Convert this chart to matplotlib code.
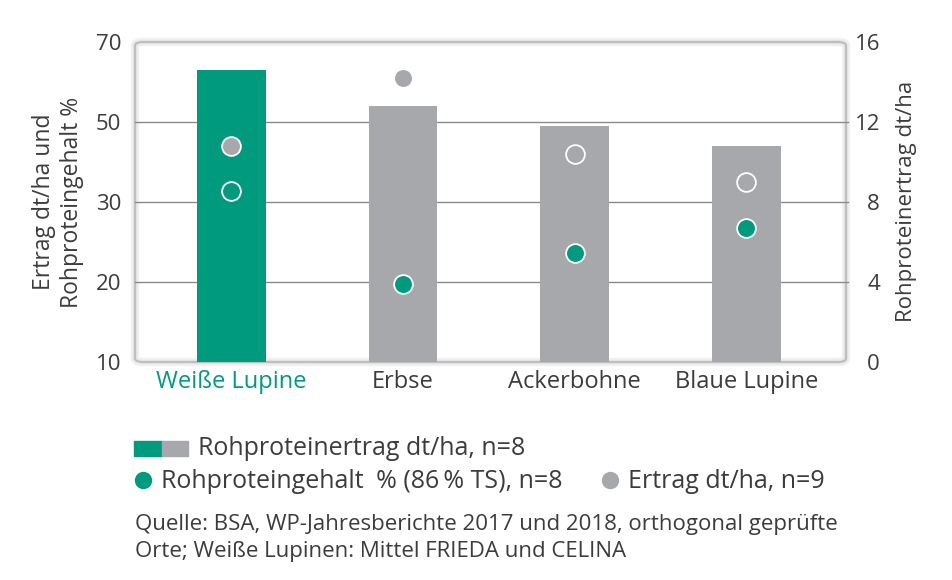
import numpy as np
import matplotlib.pyplot as plt
from matplotlib.patches import FancyBboxPatch, Rectangle
from matplotlib.lines import Line2D

plt.rcParams['font.family'] = ['Open Sans', 'DejaVu Sans']

# data
categories = ["Weiße Lupine", "Erbse", "Ackerbohne", "Blaue Lupine"]
rp_ertrag = [14.6, 12.8, 11.8, 10.8]      # Rohproteinertrag dt/ha (rechte Achse)
rp_gehalt = [32.8, 19.8, 23.6, 26.7]      # Rohproteingehalt % (linke Achse)
ertrag = [44.1, 61.0, 42.0, 34.9]         # Ertrag dt/ha (linke Achse)
left_ticks = [10, 20, 30, 50, 70]
right_ticks = [0, 4, 8, 12, 16]
legend_labels = ["Rohproteinertrag dt/ha, n=8",
                 "Rohproteingehalt\u2002% (86\u2009% TS), n=8",
                 "Ertrag dt/ha, n=9"]
source = ["Quelle: BSA, WP-Jahresberichte 2017 und 2018, orthogonal geprüfte",
          "Orte; Weiße Lupinen: Mittel FRIEDA und CELINA"]

green = "#009a7e"
grey = "#a7a8ab"
txt = "#3c3c3c"
W, H = 953, 580

# broken left axis: 10-30 takes half, 30-70 the other half
def fwd(v):
    v = np.asarray(v, dtype=float)
    return np.where(v <= 30, 0.4 * (v - 10), 8 + 0.2 * (v - 30))

def inv(r):
    r = np.asarray(r, dtype=float)
    return np.where(r <= 8, r / 0.4 + 10, (r - 8) / 0.2 + 30)

fig = plt.figure(figsize=(W / 100, H / 100), dpi=100)
ax = fig.add_axes([135 / W, 1 - 362 / H, 711 / W, 320 / H])
x = np.arange(len(categories))

# frame with a soft inner shade
for lw, col, z in [(6, "#f0f0f0", -3), (3, "#e2e2e2", -2), (1.2, "#b8b8b8", -1)]:
    fr = FancyBboxPatch((0, 0), 1, 1, boxstyle="round,pad=0,rounding_size=0.012",
                        transform=ax.transAxes, facecolor="none", edgecolor=col,
                        lw=lw, clip_on=False)
    fr.set_zorder(z)
    fig.add_artist(fr)

bar_cols = [green] + [grey] * (len(categories) - 1)
ax.bar(x, rp_ertrag, width=0.4, color=bar_cols, zorder=2)
ax.set_ylim(0, 16)
ax.set_xlim(-0.56, 3.58)
for t in right_ticks[1:-1]:
    ax.axhline(t, color="#8a8a8a", lw=1, zorder=1, xmax=1.003, clip_on=False)
ax.set_xticks(x)
ax.set_xticklabels(categories)
ax.tick_params(axis='x', length=0, pad=6, labelsize=17, labelcolor=txt)
ax.get_xticklabels()[0].set_color(green)
for s in ax.spines.values():
    s.set_visible(False)
ax.patch.set_visible(False)

ax2 = ax.twinx()
ax2.set_yscale('function', functions=(fwd, inv))
ax2.set_ylim(10, 70)
ax2.yaxis.tick_left()
ax2.set_yticks(left_ticks)
ax2.set_yticklabels([str(t) for t in left_ticks])
ax2.yaxis.set_minor_locator(plt.NullLocator())
ax2.tick_params(axis='y', length=0, pad=10, labelsize=16, labelcolor=txt)
for s in ax2.spines.values():
    s.set_visible(False)

# right axis for the bars (twinx moved it to the left)
ax.yaxis.tick_right()
ax.set_yticks(right_ticks)
ax.set_yticklabels([str(t) for t in right_ticks], ha='right')
ax.tick_params(axis='y', length=0, pad=24.5, labelsize=16, labelcolor=txt)

ax2.plot(x, ertrag, 'o', ms=13.5, mfc=grey, mec="white", mew=1.3, ls='none', zorder=3)
ax2.plot(x, rp_gehalt, 'o', ms=13.5, mfc=green, mec="white", mew=1.3, ls='none', zorder=3)

fig.text(58 / W, 1 - 202 / H, "Ertrag dt/ha und\nRohproteingehalt %", rotation=90,
         ha='center', va='center', fontsize=16.5, color=txt, linespacing=1.2)
fig.text(907 / W, 1 - 201 / H, "Rohproteinertrag dt/ha", rotation=90,
         ha='center', va='center', fontsize=16, color=txt)

# legend
fig.add_artist(Rectangle((134 / W, 1 - 456 / H), 28 / W, 15 / H, color=green,
                         transform=fig.transFigure))
fig.add_artist(Rectangle((162 / W, 1 - 456 / H), 26 / W, 15 / H, color=grey,
                         transform=fig.transFigure))
fig.text(198 / W, 1 - 455 / H, legend_labels[0], ha='left', va='baseline',
         fontsize=18, color=txt)
fig.add_artist(Line2D([143 / W], [1 - 480 / H], marker='o', ms=12.5, mfc=green, mec=green,
                      mew=0, transform=fig.transFigure))
fig.text(161 / W, 1 - 488 / H, legend_labels[1], ha='left', va='baseline',
         fontsize=18, color=txt)
fig.add_artist(Line2D([610 / W], [1 - 480 / H], marker='o', ms=12.5, mfc=grey, mec=grey,
                      mew=0, transform=fig.transFigure))
fig.text(628 / W, 1 - 488 / H, legend_labels[2], ha='left', va='baseline',
         fontsize=18, color=txt)

fig.text(135 / W, 1 - 530 / H, source[0], ha='left', va='baseline', fontsize=16, color=txt)
fig.text(135 / W, 1 - 557 / H, source[1], ha='left', va='baseline', fontsize=16, color=txt)

fig.savefig("out.png", dpi=100)
